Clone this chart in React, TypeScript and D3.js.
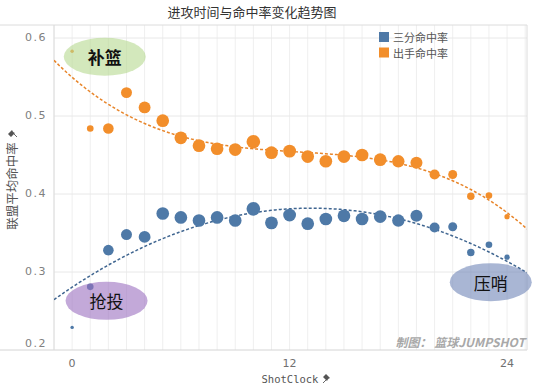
import { useMemo } from "react"
import * as d3 from "d3"

// shot clock seconds remaining (0..24)
const shotClock = d3.range(0, 25)

// league average 3P%
const threePct = [
  0.229, 0.281, 0.328, 0.348, 0.345, 0.375, 0.37, 0.366, 0.37, 0.366, 0.381, 0.363, 0.373,
  0.362, 0.368, 0.372, 0.368, 0.371, 0.366, 0.372, 0.357, 0.358, 0.325, 0.335, 0.319,
]

// league average FG%
const fgPct = [
  0.583, 0.484, 0.484, 0.53, 0.511, 0.494, 0.472, 0.462, 0.458, 0.457, 0.467, 0.453, 0.455,
  0.448, 0.442, 0.448, 0.45, 0.444, 0.442, 0.44, 0.425, 0.425, 0.397, 0.398, 0.371,
]

// relative shot volume (mark size)
const volume = [
  3, 11, 28, 30, 35, 40, 40, 40, 40, 40, 46, 41, 41, 40, 40, 40, 40, 40, 38, 36, 25, 20, 14, 11,
  7,
]

const yTicks = [0.2, 0.3, 0.4, 0.5, 0.6]
const xTicks = [0, 12, 24]
const legendLabels = ["三分命中率", "出手命中率"]
const notes = [
  { text: "补篮", at: [1.8, 0.576], fill: "#b5d98f", bold: true },
  { text: "抢投", at: [1.9, 0.263], fill: "#9b6fc0", bold: false },
  { text: "压哨", at: [23.1, 0.287], fill: "#6f86b8", bold: false },
]

const BLUE = "#4e79a7"
const ORANGE = "#f28e2b"

// least squares polynomial fit
function polyFit(xs: number[], ys: number[], deg: number) {
  const n = deg + 1
  const A = Array.from({ length: n }, () => new Array(n + 1).fill(0))
  xs.forEach((x, k) => {
    for (let i = 0; i < n; i++) {
      for (let j = 0; j < n; j++) A[i][j] += Math.pow(x, i + j)
      A[i][n] += ys[k] * Math.pow(x, i)
    }
  })
  for (let c = 0; c < n; c++) {
    let p = c
    for (let r = c + 1; r < n; r++) if (Math.abs(A[r][c]) > Math.abs(A[p][c])) p = r
    ;[A[c], A[p]] = [A[p], A[c]]
    for (let r = 0; r < n; r++) {
      if (r === c) continue
      const f = A[r][c] / A[c][c]
      for (let k = c; k <= n; k++) A[r][k] -= f * A[c][k]
    }
  }
  const coef = A.map((row, i) => row[n] / row[i])
  return (x: number) => coef.reduce((s, c, i) => s + c * Math.pow(x, i), 0)
}

function Pin({ x, y, rotate = 0 }: { x: number; y: number; rotate?: number }) {
  return (
    <g transform={`translate(${x},${y}) rotate(${rotate})`} fill="#555">
      <path d="M-1,-4 L3,0 L1.5,0.8 L0.8,1.5 L0,3 L-4,-1 Z" />
      <path d="M0,1 L-4,5" stroke="#555" strokeWidth={0.9} />
    </g>
  )
}

export default function App() {
  const width = 550
  const height = 387
  const plot = { left: 54, right: 527, top: 25, bottom: 350 }

  const x = d3.scaleLinear().domain([-1, 25.1]).range([plot.left, plot.right])
  const y = d3.scaleLinear().domain([0.2, 0.6167]).range([plot.bottom, plot.top])
  const r = d3.scaleSqrt().domain([0, d3.max(volume)!]).range([0, 6.8])

  const trends = useMemo(() => {
    const fOrange = polyFit(shotClock, fgPct, 3)
    const fBlue = polyFit(shotClock, threePct, 2)
    const xs = d3.range(-1, 25.2, 0.1)
    const line = d3.line<number>().x((d) => x(d))
    return {
      orange: line.y((d) => y(fOrange(d)))(xs),
      blue: line.y((d) => y(fBlue(d)))(xs),
    }
  }, [])

  const gridX = d3.range(-1, 26)

  return (
    <svg
      width={width}
      height={height}
      style={{ position: "absolute", left: 0, top: 0, background: "#fff" }}
      fontFamily="'Noto Sans CJK SC', 'DejaVu Sans', sans-serif"
    >
      <defs>
        <clipPath id="plotClip">
          <rect x={plot.left} y={plot.top} width={plot.right - plot.left} height={plot.bottom - plot.top} />
        </clipPath>
      </defs>

      <text x={252} y={17} textAnchor="middle" fontSize={13} fill="#333">
        进攻时间与命中率变化趋势图
      </text>

      {/* grid */}
      {gridX.map((g) => (
        <line key={g} x1={x(g)} x2={x(g)} y1={plot.top} y2={plot.bottom} stroke="#efefef" />
      ))}
      {yTicks.slice(1).map((t) => (
        <line key={t} x1={plot.left} x2={plot.right} y1={y(t)} y2={y(t)} stroke="#e8e8e8" />
      ))}

      {/* frame */}
      <line x1={0} x2={plot.right} y1={plot.top} y2={plot.top} stroke="#dcdcdc" />
      <line x1={0} x2={plot.right} y1={plot.bottom} y2={plot.bottom} stroke="#d4d4d4" />
      <line x1={plot.left} x2={plot.left} y1={plot.top} y2={plot.bottom} stroke="#dcdcdc" />
      <line x1={plot.right} x2={plot.right} y1={plot.top} y2={plot.bottom} stroke="#dcdcdc" />

      {/* y ticks */}
      {yTicks.map((t) => (
        <text
          key={t}
          x={47}
          y={Math.min(y(t), plot.bottom - 6)}
          textAnchor="end"
          dominantBaseline="middle"
          fontSize={11}
          fill="#808080"
          letterSpacing={1.5}
          fontFamily="'DejaVu Sans', sans-serif"
        >
          {t.toFixed(1)}
        </text>
      ))}
      {/* x ticks */}
      {xTicks.map((t) => (
        <text
          key={t}
          x={x(t)}
          y={364}
          textAnchor="middle"
          dominantBaseline="middle"
          fontSize={11}
          fill="#707070"
          fontFamily="'DejaVu Sans', sans-serif"
        >
          {t}
        </text>
      ))}

      {/* axis titles */}
      <text x={290} y={383} textAnchor="middle" fontSize={10.5} fill="#555" fontFamily="'DejaVu Sans Mono', monospace">
        ShotClock
      </text>
      <Pin x={327} y={378} />
      <text transform="translate(17,186) rotate(-90)" textAnchor="middle" fontSize={12.5} fill="#555">
        联盟平均命中率
      </text>
      <Pin x={12} y={133} rotate={-90} />

      <g clipPath="url(#plotClip)">
        <path d={trends.orange!} fill="none" stroke="#e8852a" strokeWidth={1.5} strokeDasharray="3,2" />
        <path d={trends.blue!} fill="none" stroke="#3f6590" strokeWidth={1.5} strokeDasharray="3,2" />
      </g>

      {shotClock.map((s, i) => (
        <circle key={"b" + s} cx={x(s)} cy={y(threePct[i])} r={r(volume[i])} fill={BLUE} />
      ))}
      {shotClock.map((s, i) => (
        <circle key={"o" + s} cx={x(s)} cy={y(fgPct[i])} r={r(volume[i])} fill={ORANGE} />
      ))}

      {/* annotations */}
      {notes.map((n) => (
        <g key={n.text}>
          <ellipse cx={x(n.at[0])} cy={y(n.at[1])} rx={41} ry={19} fill={n.fill} fillOpacity={0.6} />
          <text
            x={x(n.at[0])}
            y={y(n.at[1])}
            textAnchor="middle"
            dominantBaseline="central"
            fontSize={17}
            fontWeight={n.bold ? "bold" : "normal"}
            fill="#111"
          >
            {n.text}
          </text>
        </g>
      ))}

      {/* legend */}
      {legendLabels.map((l, i) => (
        <g key={l} transform={`translate(379,${32 + i * 15.5})`}>
          <rect width={10} height={10} fill={i === 0 ? BLUE : ORANGE} />
          <text x={14} y={5} dominantBaseline="central" fontSize={11} fill="#555">
            {l}
          </text>
        </g>
      ))}

      <text
        x={525}
        y={347}
        textAnchor="end"
        fontSize={12}
        fontStyle="italic"
        fontWeight="bold"
        fill="#a8a8a8"
      >
        制图： 篮球JUMPSHOT
      </text>
    </svg>
  )
}
